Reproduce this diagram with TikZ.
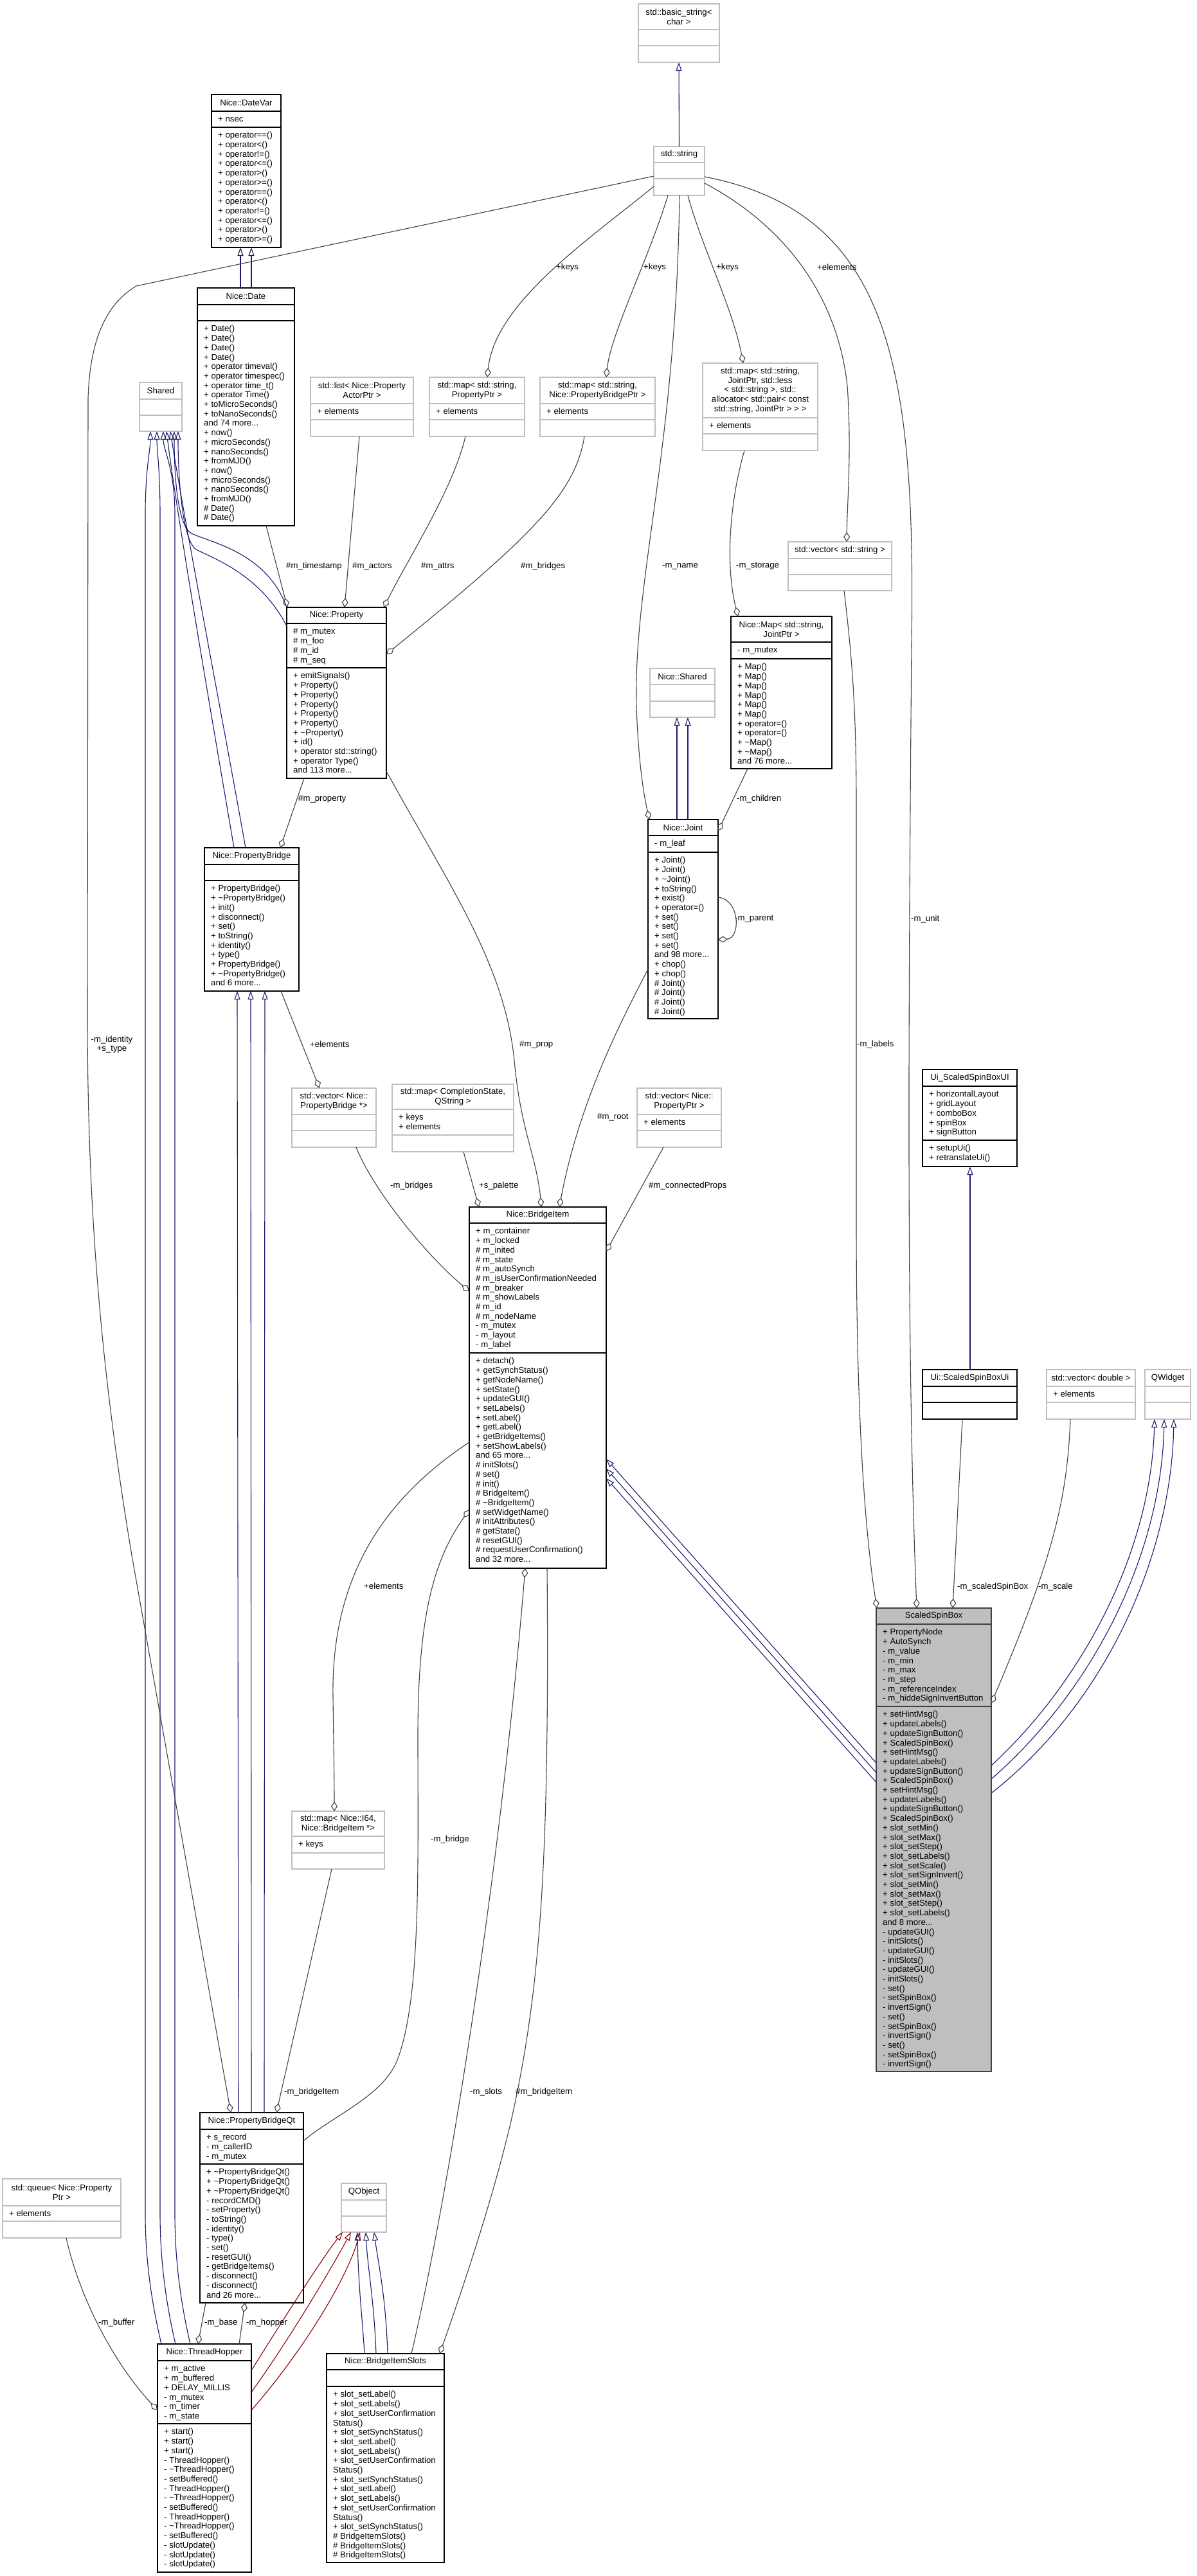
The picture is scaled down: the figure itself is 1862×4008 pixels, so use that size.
\documentclass[tikz,border=0pt]{standalone}
\usepackage{fontspec}
\setmainfont{Liberation Sans}
\usetikzlibrary{arrows.meta,fit,calc}
\definecolor{inhblue}{HTML}{191970}
\definecolor{privred}{HTML}{8B0000}
\definecolor{usegray}{HTML}{404040}
\definecolor{boxgray}{HTML}{BFBFBF}
\definecolor{darkbox}{HTML}{404040}
\newcommand\mfont{\fontsize{13.2pt}{14.7pt}\selectfont}
\tikzset{
 blk/.style={draw=black, line width=1.3pt},
 gry/.style={draw=boxgray, line width=1.3pt},
 sel/.style={draw=darkbox, fill=boxgray, line width=1.3pt},
 ttl/.style={inner sep=0pt, align=center, font=\mfont},
 mem/.style={anchor=north west, inner sep=0pt, align=left, font=\mfont, xshift=10pt, yshift=-6.4pt},
 lbl/.style={anchor=west, inner sep=0pt, font=\mfont},
 inh/.style={draw=inhblue, line width=1.1pt, -{Triangle[open, length=13pt, width=9pt]}},
 priv/.style={draw=privred, line width=1.1pt, -{Triangle[open, length=13pt, width=9pt]}},
 use/.style={draw=usegray, line width=1.1pt, -{Diamond[open, length=15pt, width=10pt]}},
}
% #1 name, #2 style, #3 x1,y1, #4 x2,y2, #5 sep1, #6 sep2, #7 title, #8 attrs, #9 methods
\newcommand{\cls}[9]{%
 \node[#2, fit={(#3) (#4)}, inner sep=0pt, outer sep=0pt] (#1) {};
 \draw[#2, fill=none] (#1.west |- 0,#5) -- (#1.east |- 0,#5);
 \draw[#2, fill=none] (#1.west |- 0,#6) -- (#1.east |- 0,#6);
 \path (#1.north) -- (#1.north |- 0,#5) node[midway, ttl] (#1-t) {#7};
 \node[mem] (#1-a) at (#1.west |- 0,#5) {\strut#8};
 \node[mem] (#1-m) at (#1.west |- 0,#6) {\strut#9};
}
\begin{document}
\begin{tikzpicture}[x=1pt,y=-1pt]
\fill[white] (0,0) rectangle (1862,4008);
\useasboundingbox (0,0) rectangle (1862,4008);

% ---------- classes ----------
\cls{basic}{gry}{993,6}{1119,97}{46}{71}{std::basic\_string<\\char >}{}{}
\cls{string}{gry}{1017,228}{1096,304}{253}{278}{std::string}{}{}
\cls{datevar}{blk}{329,147}{437,385}{173}{198}{Nice::DateVar}{+ nsec}{+ operator==()\\+ operator<()\\+ operator!=()\\+ operator<=()\\+ operator>()\\+ operator>=()\\+ operator==()\\+ operator<()\\+ operator!=()\\+ operator<=()\\+ operator>()\\+ operator>=()}
\cls{date}{blk}{307,448}{458,818}{474}{499}{Nice::Date}{}{+ Date()\\+ Date()\\+ Date()\\+ Date()\\+ operator timeval()\\+ operator timespec()\\+ operator time\_t()\\+ operator Time()\\+ toMicroSeconds()\\+ toNanoSeconds()\\and 74 more...\\+ now()\\+ microSeconds()\\+ nanoSeconds()\\+ fromMJD()\\+ now()\\+ microSeconds()\\+ nanoSeconds()\\+ fromMJD()\\\# Date()\\\# Date()}
\cls{shared}{gry}{217,595}{283,671}{621}{646}{Shared}{}{}
\cls{list}{gry}{483,587}{643,679}{628}{653}{std::list< Nice::Property\\ActorPtr >}{+ elements}{}
\cls{mapA}{gry}{668,587}{816,679}{628}{653}{std::map< std::string,\\PropertyPtr >}{+ elements}{}
\cls{mapB}{gry}{840,587}{1019,679}{628}{653}{std::map< std::string,\\Nice::PropertyBridgePtr >}{+ elements}{}
\cls{mapC}{gry}{1093,565}{1272,701}{650}{675}{std::map< std::string,\\JointPtr, std::less\\< std::string >, std::\\allocator< std::pair< const\\std::string, JointPtr > > >}{+ elements}{}
\cls{vecS}{gry}{1226,843}{1387,919}{869}{894}{std::vector< std::string >}{}{}
\cls{prop}{blk}{446,945}{601,1211}{970}{1039}{Nice::Property}{\# m\_mutex\\\# m\_foo\\\# m\_id\\\# m\_seq}{+ emitSignals()\\+ Property()\\+ Property()\\+ Property()\\+ Property()\\+ Property()\\+ \textasciitilde Property()\\+ id()\\+ operator std::string()\\+ operator Type()\\and 113 more...}
\cls{nmap}{blk}{1137,959}{1294,1196}{999}{1025}{Nice::Map< std::string,\\JointPtr >}{- m\_mutex}{+ Map()\\+ Map()\\+ Map()\\+ Map()\\+ Map()\\+ Map()\\+ operator=()\\+ operator=()\\+ \textasciitilde Map()\\+ \textasciitilde Map()\\and 76 more...}
\cls{nshared}{gry}{1011,1040}{1112,1116}{1065}{1091}{Nice::Shared}{}{}
\cls{joint}{blk}{1008,1275}{1117,1585}{1300}{1326}{Nice::Joint}{- m\_leaf}{+ Joint()\\+ Joint()\\+ \textasciitilde Joint()\\+ toString()\\+ exist()\\+ operator=()\\+ set()\\+ set()\\+ set()\\+ set()\\and 98 more...\\+ chop()\\+ chop()\\\# Joint()\\\# Joint()\\\# Joint()\\\# Joint()}
\cls{pb}{blk}{318,1319}{465,1542}{1345}{1370}{Nice::PropertyBridge}{}{+ PropertyBridge()\\+ \textasciitilde PropertyBridge()\\+ init()\\+ disconnect()\\+ set()\\+ toString()\\+ identity()\\+ type()\\+ PropertyBridge()\\+ \textasciitilde PropertyBridge()\\and 6 more...}
\cls{vecPB}{gry}{454,1693}{585,1785}{1734}{1759}{std::vector< Nice::\\PropertyBridge *>}{}{}
\cls{mapCS}{gry}{610,1687}{799,1792}{1726}{1766}{std::map< CompletionState,\\QString >}{+ keys\\+ elements}{}
\cls{vecPP}{gry}{991,1693}{1122,1785}{1734}{1759}{std::vector< Nice::\\PropertyPtr >}{+ elements}{}
\cls{uiA}{blk}{1435,1664}{1582,1815}{1690}{1774}{Ui\_ScaledSpinBoxUI}{+ horizontalLayout\\+ gridLayout\\+ comboBox\\+ spinBox\\+ signButton}{+ setupUi()\\+ retranslateUi()}
\cls{bi}{blk}{730,1878}{943,2440}{1903}{2105}{Nice::BridgeItem}{+ m\_container\\+ m\_locked\\\# m\_inited\\\# m\_state\\\# m\_autoSynch\\\# m\_isUserConfirmationNeeded\\\# m\_breaker\\\# m\_showLabels\\\# m\_id\\\# m\_nodeName\\- m\_mutex\\- m\_layout\\- m\_label}{+ detach()\\+ getSynchStatus()\\+ getNodeName()\\+ setState()\\+ updateGUI()\\+ setLabels()\\+ setLabel()\\+ getLabel()\\+ getBridgeItems()\\+ setShowLabels()\\and 65 more...\\\# initSlots()\\\# set()\\\# init()\\\# BridgeItem()\\\# \textasciitilde BridgeItem()\\\# setWidgetName()\\\# initAttributes()\\\# getState()\\\# resetGUI()\\\# requestUserConfirmation()\\and 32 more...}
\cls{uiB}{blk}{1435,2131}{1582,2208}{2157}{2182}{Ui::ScaledSpinBoxUi}{}{}
\cls{vecD}{gry}{1628,2131}{1766,2208}{2157}{2182}{std::vector< double >}{+ elements}{}
\cls{qwidget}{gry}{1781,2131}{1852,2208}{2157}{2182}{QWidget}{}{}
\cls{ssb}{sel}{1363,2502}{1542,3223}{2527}{2655}{ScaledSpinBox}{+ PropertyNode\\+ AutoSynch\\- m\_value\\- m\_min\\- m\_max\\- m\_step\\- m\_referenceIndex\\- m\_hiddeSignInvertButton}{+ setHintMsg()\\+ updateLabels()\\+ updateSignButton()\\+ ScaledSpinBox()\\+ setHintMsg()\\+ updateLabels()\\+ updateSignButton()\\+ ScaledSpinBox()\\+ setHintMsg()\\+ updateLabels()\\+ updateSignButton()\\+ ScaledSpinBox()\\+ slot\_setMin()\\+ slot\_setMax()\\+ slot\_setStep()\\+ slot\_setLabels()\\+ slot\_setScale()\\+ slot\_setSignInvert()\\+ slot\_setMin()\\+ slot\_setMax()\\+ slot\_setStep()\\+ slot\_setLabels()\\and 8 more...\\- updateGUI()\\- initSlots()\\- updateGUI()\\- initSlots()\\- updateGUI()\\- initSlots()\\- set()\\- setSpinBox()\\- invertSign()\\- set()\\- setSpinBox()\\- invertSign()\\- set()\\- setSpinBox()\\- invertSign()}
\cls{mapI}{gry}{454,2818}{598,2908}{2857}{2883}{std::map< Nice::I64,\\Nice::BridgeItem *>}{+ keys}{}
\cls{pbqt}{blk}{311,3287}{472,3583}{3313}{3367}{Nice::PropertyBridgeQt}{+ s\_record\\- m\_callerID\\- m\_mutex}{+ \textasciitilde PropertyBridgeQt()\\+ \textasciitilde PropertyBridgeQt()\\+ \textasciitilde PropertyBridgeQt()\\- recordCMD()\\- setProperty()\\- toString()\\- identity()\\- type()\\- set()\\- resetGUI()\\- getBridgeItems()\\- disconnect()\\- disconnect()\\and 26 more...}
\cls{qobj}{gry}{531,3397}{601,3473}{3423}{3448}{QObject}{}{}
\cls{queue}{gry}{4,3390}{188,3482}{3432}{3456}{std::queue< Nice::Property\\Ptr >}{+ elements}{}
\cls{th}{blk}{245,3647}{391,4002}{3673}{3771}{Nice::ThreadHopper}{+ m\_active\\+ m\_buffered\\+ DELAY\_MILLIS\\- m\_mutex\\- m\_timer\\- m\_state}{+ start()\\+ start()\\+ start()\\- ThreadHopper()\\- \textasciitilde ThreadHopper()\\- setBuffered()\\- ThreadHopper()\\- \textasciitilde ThreadHopper()\\- setBuffered()\\- ThreadHopper()\\- \textasciitilde ThreadHopper()\\- setBuffered()\\- slotUpdate()\\- slotUpdate()\\- slotUpdate()}
\cls{bis}{blk}{508,3662}{691,3987}{3687}{3713}{Nice::BridgeItemSlots}{}{+ slot\_setLabel()\\+ slot\_setLabels()\\+ slot\_setUserConfirmation\\Status()\\+ slot\_setSynchStatus()\\+ slot\_setLabel()\\+ slot\_setLabels()\\+ slot\_setUserConfirmation\\Status()\\+ slot\_setSynchStatus()\\+ slot\_setLabel()\\+ slot\_setLabels()\\+ slot\_setUserConfirmation\\Status()\\+ slot\_setSynchStatus()\\\# BridgeItemSlots()\\\# BridgeItemSlots()\\\# BridgeItemSlots()}

% ---------- inheritance ----------
\draw[inh] (string.north) -- (basic.south);
\draw[inh] (date.north -| 374,0) -- (datevar.south -| 374,0);
\draw[inh] (date.north -| 391,0) -- (datevar.south -| 391,0);
\draw[inh] (joint.north -| 1053,0) -- (nshared.south -| 1053,0);
\draw[inh] (joint.north -| 1070,0) -- (nshared.south -| 1070,0);
\draw[inh] (pbqt.north -| 371,0) -- (pb.south -| 369,0);
\draw[inh] (pbqt.north -| 391,0) -- (pb.south -| 390,0);
\draw[inh] (pbqt.north -| 411,0) -- (pb.south -| 412,0);
\draw[inh] (uiB.north -| 1509,0) -- (uiA.south -| 1509,0);
\draw[inh] (ssb.west |- 0,2743) -- (bi.east |- 0,2270);
\draw[inh] (ssb.west |- 0,2758) -- (bi.east |- 0,2285);
\draw[inh] (ssb.west |- 0,2773) -- (bi.east |- 0,2300);
\draw[inh] (ssb.east |- 0,2747) .. controls (1680,2620) and (1790,2420) .. (qwidget.south -| 1796,0);
\draw[inh] (ssb.east |- 0,2768) .. controls (1700,2630) and (1806,2420) .. (qwidget.south -| 1811,0);
\draw[inh] (ssb.east |- 0,2790) .. controls (1720,2650) and (1822,2420) .. (qwidget.south -| 1826,0);
\draw[inh] (th.north -| 251,0) .. controls (240,3600) and (226,3530) .. (226,3444) -- (226,800) .. controls (226,730) and (234,700) .. (shared.south -| 234,0);
\draw[inh] (th.north -| 273,0) .. controls (262,3600) and (249,3530) .. (249,3444) -- (249,800) .. controls (249,730) and (244,700) .. (shared.south -| 244,0);
\draw[inh] (th.north -| 296,0) .. controls (285,3600) and (272,3530) .. (272,3444) -- (272,800) .. controls (272,730) and (254,700) .. (shared.south -| 254,0);
\draw[inh] (pb.north -| 364,0) .. controls (335,1150) and (275,800) .. (shared.south -| 259,0);
\draw[inh] (pb.north -| 382,0) .. controls (352,1150) and (285,800) .. (shared.south -| 265,0);
\draw[inh] (prop.north west) .. controls (415,860) and (330,845) .. (298,830) .. controls (276,818) and (271,740) .. (shared.south -| 271,0);
\draw[inh] (prop.west |- 0,974) .. controls (405,895) and (335,870) .. (305,855) .. controls (283,840) and (277,740) .. (shared.south -| 277,0);
\draw[priv] (th.east |- 0,3688) .. controls (440,3610) and (500,3515) .. (qobj.south -| 533,0);
\draw[priv] (th.east |- 0,3722) .. controls (450,3640) and (515,3530) .. (qobj.south -| 546,0);
\draw[priv] (th.east |- 0,3750) .. controls (470,3660) and (540,3545) .. (qobj.south -| 560,0);
\draw[inh] (bis.north -| 567,0) .. controls (563,3600) and (557,3550) .. (qobj.south -| 556,0);
\draw[inh] (bis.north -| 585,0) .. controls (582,3580) and (572,3530) .. (qobj.south -| 569,0);
\draw[inh] (bis.north -| 603,0) .. controls (600,3570) and (588,3520) .. (qobj.south -| 582,0);

% ---------- usage ----------
\draw[use] (string.west |- 0,274) -- (212,445) .. controls (170,470) and (140,520) .. (137,620) -- (136,1580) .. controls (136,1900) and (160,2150) .. (205,2420) -- (pbqt.north -| 359,0);
\draw[use] (string.west |- 0,290) .. controls (920,370) and (770,470) .. (mapA.north -| 758,0);
\draw[use] (string.south -| 1039,0) .. controls (1010,400) and (950,520) .. (mapB.north -| 943,0);
\draw[use] (string.south -| 1057,0) .. controls (1052,700) and (985,900) .. (990,1100) .. controls (993,1180) and (1000,1230) .. (joint.north -| 1010,0);
\draw[use] (string.south -| 1070,0) .. controls (1090,380) and (1140,480) .. (mapC.north -| 1156,0);
\draw[use] (string.east |- 0,285) .. controls (1200,340) and (1300,440) .. (1318,600) .. controls (1325,700) and (1318,780) .. (vecS.north -| 1317,0);
\draw[use] (string.east |- 0,275) .. controls (1380,330) and (1425,560) .. (1418,1000) .. controls (1413,1600) and (1410,2100) .. (ssb.north -| 1426,0);
\draw[use] (vecS.south -| 1313,0) .. controls (1325,1020) and (1332,1100) .. (1332,1250) -- (1332,1900) .. controls (1332,2200) and (1345,2380) .. (ssb.north -| 1364,0);
\draw[use] (date.south -| 414,0) -- (prop.north -| 447,0);
\draw[use] (list.south -| 559,0) -- (prop.north -| 536,0);
\draw[use] (mapA.south -| 724,0) .. controls (705,760) and (640,860) .. (prop.north -| 597,0);
\draw[use] (mapB.south -| 909,0) .. controls (895,770) and (820,840) .. (prop.east |- 0,1018);
\draw[use] (mapC.south -| 1158,0) .. controls (1135,780) and (1128,880) .. (nmap.north -| 1148,0);
\draw[use] (prop.south -| 473,0) -- (pb.north -| 436,0);
\draw[use] (nmap.south -| 1163,0) -- (joint.east |- 0,1293);
\draw[use] (joint.east |- 0,1396) .. controls (1152,1400) and (1152,1460) .. (joint.east |- 0,1462);
\draw[use] (pb.south -| 437,0) -- (vecPB.north -| 497,0);
\draw[use] (vecPB.south -| 554,0) .. controls (580,1850) and (660,1950) .. (bi.west |- 0,2009);
\draw[use] (mapCS.south -| 721,0) -- (bi.north -| 745,0);
\draw[use] (prop.east |- 0,1200) .. controls (700,1380) and (785,1500) .. (800,1650) .. controls (810,1760) and (835,1800) .. (bi.north -| 842,0);
\draw[use] (joint.west |- 0,1508) .. controls (960,1600) and (900,1720) .. (bi.north -| 870,0);
\draw[use] (vecPP.south -| 1032,0) -- (bi.east |- 0,1947);
\draw[use] (uiB.south -| 1497,0) -- (ssb.north -| 1482,0);
\draw[use] (vecD.south -| 1665,0) .. controls (1660,2330) and (1640,2420) .. (ssb.east |- 0,2650);
\draw[use] (bis.north -| 640,0) .. controls (690,3450) and (775,2950) .. (bi.south -| 817,0);
\draw[use] (bi.south -| 851,0) .. controls (855,2900) and (840,3100) .. (795,3300) .. controls (767,3420) and (720,3560) .. (bis.north -| 684,0);
\draw[use] (pbqt.east |- 0,3331) .. controls (520,3290) and (600,3260) .. (620,3200) .. controls (655,3100) and (650,2900) .. (650,2700) .. controls (650,2500) and (680,2420) .. (bi.west |- 0,2349);
\draw[use] (bi.west |- 0,2244) .. controls (600,2330) and (515,2450) .. (518,2640) .. controls (519,2720) and (520,2760) .. (mapI.north -| 520,0);
\draw[use] (mapI.south -| 516,0) -- (pbqt.north -| 430,0);
\draw[use] (pbqt.south -| 320,0) -- (th.north -| 308,0);
\draw[use] (th.north -| 372,0) -- (pbqt.south -| 381,0);
\draw[use] (queue.south -| 103,0) .. controls (125,3580) and (180,3680) .. (th.west |- 0,3750);

% ---------- labels ----------
\node[inner sep=0pt, align=center, font=\mfont] (l1) at (174,1625) {-m\_identity\\+s\_type};
\node[lbl] (l2) at (865,416) {+keys};
\node[lbl] (l3) at (1001,416) {+keys};
\node[lbl] (l4) at (1114,416) {+keys};
\node[lbl] (l5) at (1271,416) {+elements};
\node[lbl] (l6) at (445,881) {\#m\_timestamp};
\node[lbl] (l7) at (548,881) {\#m\_actors};
\node[lbl] (l8) at (655,881) {\#m\_attrs};
\node[lbl] (l9) at (810,881) {\#m\_bridges};
\node[lbl] (l10) at (1030,881) {-m\_name};
\node[lbl] (l11) at (1145,881) {-m\_storage};
\node[lbl] (l12) at (464,1243) {\#m\_property};
\node[lbl] (l13) at (1146,1243) {-m\_children};
\node[lbl] (l14) at (1143,1430) {-m\_parent};
\node[lbl] (l15) at (1417,1430) {-m\_unit};
\node[lbl] (l16) at (482,1625) {+elements};
\node[lbl] (l17) at (808,1625) {\#m\_prop};
\node[lbl] (l18) at (1333,1625) {-m\_labels};
\node[lbl] (l19) at (929,1738) {\#m\_root};
\node[lbl] (l20) at (607,1845) {-m\_bridges};
\node[lbl] (l21) at (745,1845) {+s\_palette};
\node[lbl] (l22) at (1009,1845) {\#m\_connectedProps};
\node[lbl] (l23) at (566,2468) {+elements};
\node[lbl] (l24) at (1489,2469) {-m\_scaledSpinBox};
\node[lbl] (l25) at (1615,2469) {-m\_scale};
\node[lbl] (l26) at (670,2862) {-m\_bridge};
\node[lbl] (l27) at (442,3255) {-m\_bridgeItem};
\node[lbl] (l28) at (731,3255) {-m\_slots};
\node[lbl] (l29) at (802,3255) {\#m\_bridgeItem};
\node[lbl] (l30) at (153,3614) {-m\_buffer};
\node[lbl] (l31) at (318,3614) {-m\_base};
\node[lbl] (l32) at (383,3614) {-m\_hopper};
\end{tikzpicture}
\end{document}
